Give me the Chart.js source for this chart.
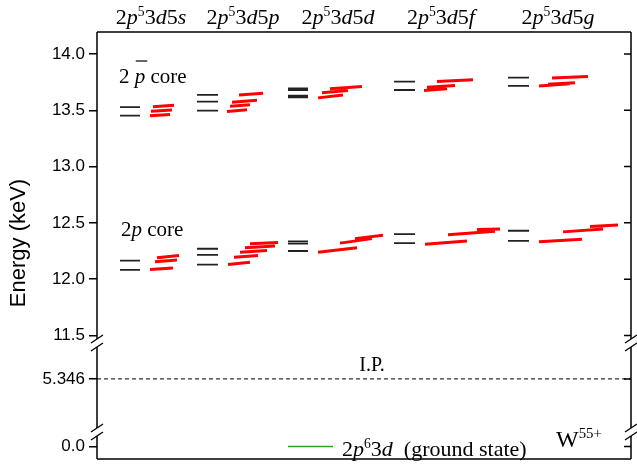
<!DOCTYPE html>
<html lang="en">
<head>
<meta charset="UTF-8">
<title>W55+ levels</title>
<script src="https://cdn.jsdelivr.net/npm/chart.js@4.4.1/dist/chart.umd.min.js"></script>
<style>
  body { margin: 0; background: #fff; }
  canvas { display: block; }
</style>
</head>
<body>
<canvas id="levels" width="637" height="464"></canvas>
<script>
// configurations 2p5 3d 5l
const configs = ['s', 'p', 'd', 'f', 'g'];

// energies in keV, black = reference levels, red = computed strokes [left, right]
const barCoreBlack = [
  [13.527, 13.453],
  [13.636, 13.576, 13.497],
  [13.695, 13.68, 13.63, 13.615],
  [13.755, 13.68],
  [13.79, 13.716]
];
const barCoreRed = [
  [[13.532, 13.545], [13.492, 13.503], [13.452, 13.462]],
  [[13.635, 13.65], [13.572, 13.588], [13.535, 13.548], [13.49, 13.505]],
  [[13.69, 13.71], [13.655, 13.675], [13.61, 13.635]],
  [[13.755, 13.77], [13.705, 13.72], [13.675, 13.69]],
  [[13.787, 13.80], [13.73, 13.745], [13.716, 13.735]]
];
const coreBlack = [
  [12.165, 12.082],
  [12.27, 12.215, 12.13],
  [12.335, 12.315, 12.25],
  [12.40, 12.32],
  [12.43, 12.34]
];
const coreRed = [
  [[12.19, 12.21], [12.155, 12.17], [12.085, 12.10]],
  [[12.315, 12.325], [12.28, 12.295], [12.24, 12.255], [12.195, 12.21], [12.13, 12.15]],
  [[12.36, 12.39], [12.32, 12.36], [12.24, 12.28]],
  [[12.44, 12.445], [12.395, 12.425], [12.31, 12.34]],
  [[12.467, 12.48], [12.42, 12.445], [12.333, 12.355]]
];
const groundE = 0.0;
const ionPot = 5.346;
const yTickValues = [14.0, 13.5, 13.0, 12.5, 12.0, 11.5, 5.346, 0.0];
const yTickLabels = ['14.0', '13.5', '13.0', '12.5', '12.0', '11.5', '5.346', '0.0'];

// ---- layout (x positions in plot units, 0..534) ----
const blackSpan = [[23, 43], [100, 121], [191, 211], [297, 318], [411, 432]];
const barRedSpan = [
  [[56, 77], [54, 75], [53, 73]],
  [[142, 166], [135, 160], [133, 153], [130, 150]],
  [[233, 265], [225, 251], [221, 246]],
  [[340, 376], [330, 358], [327, 350]],
  [[455, 491], [451, 478], [442, 473]]
];
const coreRedSpan = [
  [[60, 82], [58, 80], [53, 76]],
  [[153, 181], [148, 178], [143, 170], [137, 161], [131, 153]],
  [[258, 286], [243, 275], [221, 260]],
  [[380, 403], [351, 398], [328, 370]],
  [[493, 521], [466, 506], [442, 485]]
];
const groundSpan = [191, 236];
const labelX = [151, 243, 338, 441, 558];

// broken axis: upper part is 1:1, lower part 0..5.346 squeezed under it
const D5 = 11.1137, D0 = 10.514;
function toD(e) {
  if (e >= 11.5) return e;
  if (e <= ionPot) return D0 + e * (D5 - D0) / ionPot;
  return D5 + (e - ionPot) * (11.5 - D5) / (11.5 - ionPot);
}

function seg(arr, x0, x1, e0, e1) {
  arr.push({x: x0, y: toD(e0)}, {x: x1, y: toD(e1)}, {x: x1, y: null});
}

const blackPts = [], redPts = [];
configs.forEach((c, i) => {
  barCoreBlack[i].forEach(e => seg(blackPts, blackSpan[i][0], blackSpan[i][1], e, e));
  coreBlack[i].forEach(e => seg(blackPts, blackSpan[i][0], blackSpan[i][1], e, e));
  barCoreRed[i].forEach((p, k) => seg(redPts, barRedSpan[i][k][0], barRedSpan[i][k][1], p[0], p[1]));
  coreRed[i].forEach((p, k) => seg(redPts, coreRedSpan[i][k][0], coreRedSpan[i][k][1], p[0], p[1]));
});
const groundPts = [];
seg(groundPts, groundSpan[0], groundSpan[1], groundE, groundE);
const ipPts = [];
seg(ipPts, 0, 534, ionPot, ionPot);

const SERIF = '"Liberation Serif", "Times New Roman", serif';

// parts: [text, italic, sup]
function drawRich(ctx, parts, x, y, size, align) {
  let w = 0;
  const items = parts.map(p => {
    const sz = p[2] ? size * 0.62 : size;
    ctx.font = (p[1] ? 'italic ' : '') + sz + 'px ' + SERIF;
    const m = ctx.measureText(p[0]).width;
    w += m;
    return {t: p[0], f: ctx.font, w: m, dy: p[2] ? -size * 0.38 : 0};
  });
  let cx = align === 'center' ? x - w / 2 : x;
  items.forEach(it => {
    ctx.font = it.f;
    ctx.fillText(it.t, cx, y + it.dy);
    cx += it.w;
  });
}

const breaks = [343, 432];

const decor = {
  id: 'decor',
  afterDraw(chart) {
    const ctx = chart.ctx;
    const a = chart.chartArea;
    const ys = chart.scales.y;
    ctx.save();
    ctx.strokeStyle = '#000';
    ctx.fillStyle = '#000';
    ctx.lineWidth = 1.5;
    // frame with breaks
    ctx.beginPath();
    ctx.moveTo(a.left, a.top); ctx.lineTo(a.right, a.top);
    ctx.moveTo(a.left, a.bottom); ctx.lineTo(a.right, a.bottom);
    [a.left, a.right].forEach(x => {
      let y0 = a.top;
      breaks.forEach(b => {
        ctx.moveTo(x, y0); ctx.lineTo(x, b - 4);
        y0 = b + 4;
      });
      ctx.moveTo(x, y0); ctx.lineTo(x, a.bottom);
    });
    ctx.stroke();
    ctx.lineWidth = 1.3;
    ctx.beginPath();
    [a.left, a.right].forEach(x => {
      breaks.forEach(b => {
        [b - 4, b + 4].forEach(yy => {
          ctx.moveTo(x - 6, yy + 4); ctx.lineTo(x + 6, yy - 4);
        });
      });
    });
    ctx.stroke();
    // right side inward ticks
    ctx.lineWidth = 1.5;
    ctx.beginPath();
    yTickValues.forEach(v => {
      const py = ys.getPixelForValue(toD(v));
      ctx.moveTo(a.right, py); ctx.lineTo(a.right - 7, py);
    });
    ctx.stroke();

    ctx.textBaseline = 'alphabetic';
    ctx.textAlign = 'left';
    // configuration labels on top
    configs.forEach((c, i) => {
      drawRich(ctx, [['2'], ['p', true], ['5', false, true], ['3'], ['d', true], ['5'], [c, true]],
        labelX[i], 24, 22, 'center');
    });
    // core labels
    drawRich(ctx, [['2 '], ['p', true], [' core']], 119, 83, 21);
    ctx.font = '21px ' + SERIF;
    const wTwo = ctx.measureText('2 ').width;
    ctx.font = 'italic 21px ' + SERIF;
    const wP = ctx.measureText('p').width;
    ctx.lineWidth = 1.2;
    ctx.beginPath();
    ctx.moveTo(119 + wTwo + 1, 61); ctx.lineTo(119 + wTwo + wP + 2, 61);
    ctx.stroke();
    drawRich(ctx, [['2'], ['p', true], [' core']], 121, 236, 21);
    // I.P.
    drawRich(ctx, [['I.P.']], 372, 371, 20, 'center');
    // ground state legend text
    drawRich(ctx, [['2'], ['p', true], ['6', false, true], ['3'], ['d', true], ['  (ground state)']], 342, 456, 22);
    drawRich(ctx, [['W'], ['55+', false, true]], 556, 447, 24);
    // y title
    ctx.translate(19, 243);
    ctx.rotate(-Math.PI / 2);
    ctx.textAlign = 'center';
    ctx.textBaseline = 'middle';
    ctx.font = '22px "Liberation Sans", Arial, sans-serif';
    ctx.fillText('Energy (keV)', 0, 0);
    ctx.restore();
  }
};

new Chart(document.getElementById('levels'), {
  type: 'scatter',
  data: {
    datasets: [
      {data: blackPts, borderColor: '#222', borderWidth: 1.8, showLine: true, pointRadius: 0, spanGaps: false},
      {data: redPts, borderColor: '#ff0000', borderWidth: 3, showLine: true, pointRadius: 0, spanGaps: false},
      {data: groundPts, borderColor: '#2ca02c', borderWidth: 1.5, showLine: true, pointRadius: 0, spanGaps: false},
      {data: ipPts, borderColor: '#333', borderWidth: 1.2, borderDash: [4, 3], showLine: true, pointRadius: 0, spanGaps: false}
    ]
  },
  options: {
    responsive: false,
    animation: false,
    layout: {padding: {top: 32, right: 6, bottom: 5, left: 0}},
    plugins: {legend: {display: false}, tooltip: {enabled: false}},
    scales: {
      x: {type: 'linear', min: 0, max: 534, display: false},
      y: {
        type: 'linear',
        min: 10.403,
        max: 14.195,
        afterFit(scale) {
          scale.width = 97;
          scale.paddingTop = 0;
          scale.paddingBottom = 0;
        },
        afterBuildTicks(scale) { scale.ticks = yTickValues.map(v => ({value: toD(v)})); },
        border: {display: false},
        grid: {drawOnChartArea: false, drawTicks: true, tickLength: 8, color: '#000', lineWidth: 1.5},
        ticks: {
          padding: 4,
          color: '#000',
          font: {family: '"Liberation Sans", Arial, sans-serif', size: 17},
          callback: (v, i) => yTickLabels[i]
        }
      }
    }
  },
  plugins: [decor]
});
</script>
</body>
</html>
